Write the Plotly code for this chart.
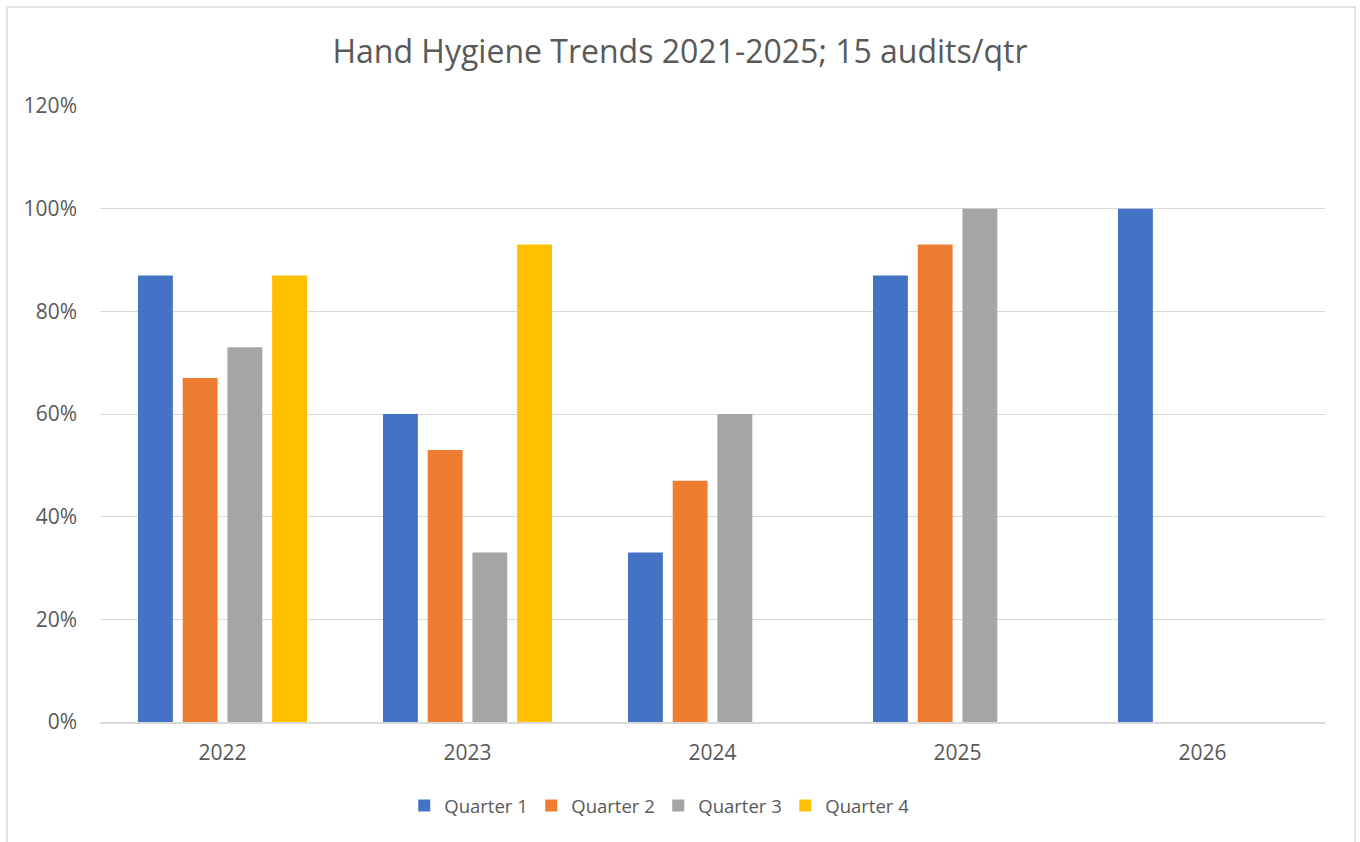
import plotly.graph_objects as go

# Compliance rate per quarter (%), by year
years = ["2022", "2023", "2024", "2025", "2026"]
quarter_1 = [87, 60, 33, 87, 100]
quarter_2 = [67, 53, 47, 93, None]
quarter_3 = [73, 33, 60, 100, None]
quarter_4 = [87, 93, None, None, None]

series = [
    ("Quarter 1", quarter_1, "#4472C4"),
    ("Quarter 2", quarter_2, "#ED7D31"),
    ("Quarter 3", quarter_3, "#A5A5A5"),
    ("Quarter 4", quarter_4, "#FFC000"),
]

FONT = "Open Sans"
TEXT = "#595959"
W, H = 1360, 842

fig = go.Figure()
for name, vals, color in series:
    fig.add_trace(go.Bar(
        x=years,
        y=[None if v is None else v / 100 for v in vals],
        name=name,
        marker=dict(color=color, line=dict(width=0)),
    ))

fig.update_layout(
    width=W, height=H,
    paper_bgcolor="white", plot_bgcolor="white",
    margin=dict(l=100, r=35, t=106, b=120),
    barmode="group", bargap=0.27, bargroupgap=0.22,
    title=dict(
        text="Hand Hygiene Trends 2021-2025; 15 audits/qtr",
        x=0.5, xref="container", xanchor="center",
        y=1 - 52 / H, yref="container", yanchor="middle",
        font=dict(family=FONT, size=32, color=TEXT),
    ),
    font=dict(family=FONT, color=TEXT),
    showlegend=True,
    legend=dict(
        orientation="h", x=0.484, xanchor="center", xref="container",
        y=36 / H, yref="container", yanchor="middle",
        font=dict(family=FONT, size=18.5, color=TEXT),
        itemsizing="constant", traceorder="normal",
        entrywidth=82, entrywidthmode="pixels",
    ),
    xaxis=dict(
        type="category",
        showgrid=False, showline=True, linecolor="#D9D9D9", linewidth=1.5,
        ticks="", tickfont=dict(family=FONT, size=21, color=TEXT),
        ticklabelstandoff=11,
    ),
    yaxis=dict(
        range=[0, 1.2], dtick=0.2, tickformat=".0%",
        showgrid=True, gridcolor="#D9D9D9", gridwidth=1,
        zeroline=False, showline=False, ticks="",
        tickfont=dict(family=FONT, size=21, color=TEXT),
        ticklabelstandoff=22,
    ),
    shapes=[dict(
        type="rect", xref="paper", yref="paper",
        x0=-0.0759, x1=1.0245, y0=-0.25, y1=1.1607,
        line=dict(color="#D9D9D9", width=1.5), fillcolor="rgba(0,0,0,0)",
        layer="below",
    )],
)

fig.write_html("out.html")
